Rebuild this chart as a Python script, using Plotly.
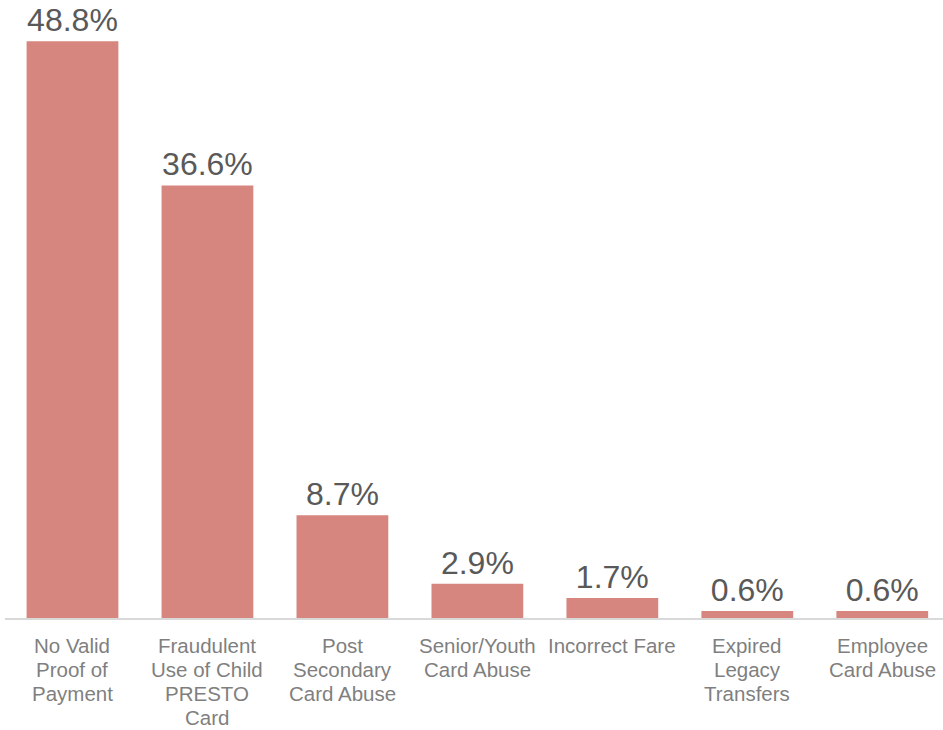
import plotly.graph_objects as go

categories = [
    "No Valid<br>Proof of<br>Payment",
    "Fraudulent<br>Use of Child<br>PRESTO<br>Card",
    "Post<br>Secondary<br>Card Abuse",
    "Senior/Youth<br>Card Abuse",
    "Incorrect Fare",
    "Expired<br>Legacy<br>Transfers",
    "Employee<br>Card Abuse",
]
shares = [48.8, 36.6, 8.7, 2.9, 1.7, 0.6, 0.6]
share_labels = ["48.8%", "36.6%", "8.7%", "2.9%", "1.7%", "0.6%", "0.6%"]

FONT = "Liberation Sans, Arial, sans-serif"

fig = go.Figure(
    go.Bar(
        x=list(range(len(categories))),
        y=shares,
        text=share_labels,
        textposition="outside",
        textfont=dict(family=FONT, size=32, color="#595959"),
        marker=dict(color="#D6867F", line=dict(width=0)),
        cliponaxis=False,
        hoverinfo="skip",
    )
)

# Category labels under the axis, one annotation per line for tight line spacing
annotations = []
for i, label in enumerate(categories):
    for k, line in enumerate(label.split("<br>")):
        annotations.append(
            dict(
                x=i,
                xref="x",
                y=0,
                yref="paper",
                yanchor="middle",
                xanchor="center",
                yshift=-(27 + 24.3 * k),
                text=line,
                showarrow=False,
                font=dict(family=FONT, size=20.5, color="#7F7F7F"),
            )
        )

fig.update_layout(
    width=943,
    height=730,
    margin=dict(l=5, r=0, t=10, b=112),
    paper_bgcolor="white",
    plot_bgcolor="white",
    bargap=0.32,
    showlegend=False,
    font=dict(family=FONT),
    annotations=annotations,
)

fig.update_xaxes(
    range=[-0.5, 6.45],
    showticklabels=False,
    showline=True,
    linecolor="#D9D9D9",
    linewidth=1.5,
    showgrid=False,
    zeroline=False,
    ticks="",
)

fig.update_yaxes(
    range=[0, 51.44],
    visible=False,
    showgrid=False,
    zeroline=False,
)

fig.write_html("out.html")
